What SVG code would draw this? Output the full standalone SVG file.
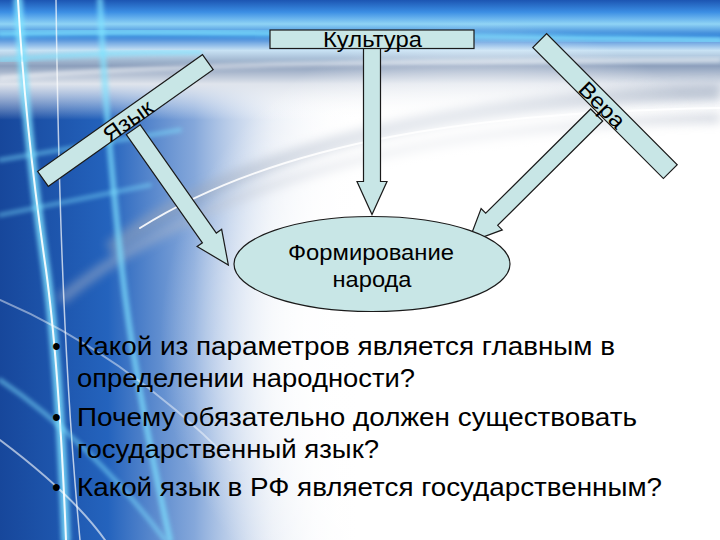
<svg xmlns="http://www.w3.org/2000/svg" width="720" height="540" viewBox="0 0 720 540">
<defs>
  <linearGradient id="leftBlue" x1="0" y1="0" x2="720" y2="0" gradientUnits="userSpaceOnUse">
    <stop offset="0" stop-color="#17479b"/>
    <stop offset="0.15" stop-color="#2463bd"/>
    <stop offset="0.27" stop-color="#6f98d4" stop-opacity="0.85"/>
    <stop offset="0.38" stop-color="#c9d6ea" stop-opacity="0.4"/>
    <stop offset="0.5" stop-color="#ffffff" stop-opacity="0"/>
  </linearGradient>
  <linearGradient id="topBand" x1="0" y1="0" x2="0" y2="120" gradientUnits="userSpaceOnUse">
    <stop offset="0" stop-color="#1c55b2"/>
    <stop offset="0.1" stop-color="#3b8ee4"/>
    <stop offset="0.2" stop-color="#8fd3f5"/>
    <stop offset="0.3" stop-color="#2d79d4"/>
    <stop offset="0.42" stop-color="#c8e2f4"/>
    <stop offset="0.55" stop-color="#8c9fbc"/>
    <stop offset="0.7" stop-color="#dfe4ec"/>
    <stop offset="1" stop-color="#ffffff" stop-opacity="0"/>
  </linearGradient>
  <radialGradient id="centerWhite" cx="480" cy="340" r="320" gradientUnits="userSpaceOnUse">
    <stop offset="0" stop-color="#ffffff"/>
    <stop offset="0.55" stop-color="#ffffff" stop-opacity="0.85"/>
    <stop offset="1" stop-color="#ffffff" stop-opacity="0"/>
  </radialGradient>
  <filter id="blur2" x="-20%" y="-20%" width="140%" height="140%"><feGaussianBlur stdDeviation="2"/></filter>
  <filter id="blur5" x="-20%" y="-20%" width="140%" height="140%"><feGaussianBlur stdDeviation="5"/></filter>
  <style>
    .shape { fill: #c8e6e6; stroke: #1a1a1a; stroke-width: 1.2; }
    .lbl { font-family: "Liberation Sans", Arial, sans-serif; font-size: 22px; fill: #000; }
    .body { font-family: "Liberation Sans", Arial, sans-serif; font-size: 25px; fill: #000; }
    .glow { fill: none; stroke: #7fe3ff; stroke-linecap: round; }
    .core { fill: none; stroke: #ffffff; stroke-linecap: round; }
  </style>
</defs>

<!-- background -->
<g id="background">
  <rect x="0" y="0" width="720" height="540" fill="#ffffff"/>
  <rect x="0" y="0" width="720" height="540" fill="url(#leftBlue)"/>
  <rect x="0" y="0" width="720" height="120" fill="url(#topBand)"/>
  <path d="M110,250 C240,150 450,100 720,92" fill="none" stroke="#98a6bc" stroke-width="16" opacity="0.55" filter="url(#blur5)"/>
  <path d="M60,300 C220,170 450,125 720,118" fill="none" stroke="#b4bccb" stroke-width="10" opacity="0.5" filter="url(#blur5)"/>
  <path d="M140,228 C280,140 480,112 720,108" class="core" stroke-width="2" opacity="0.9"/>
  <path d="M0,78 C150,66 300,62 720,60" class="core" stroke-width="3" opacity="0.8" filter="url(#blur2)"/>
  <path d="M0,34 C150,30 300,34 720,40" class="glow" stroke-width="6" opacity="0.8" filter="url(#blur2)"/>
  <rect x="0" y="0" width="720" height="540" fill="url(#centerWhite)"/>
  <!-- light lines on the left -->
  <path d="M18,0 C22,70 30,160 46,270 C57,350 62,440 66,540" class="glow" stroke-width="9" opacity="0.8" filter="url(#blur2)"/>
  <path d="M18,0 C22,70 30,160 46,270 C57,350 62,440 66,540" class="core" stroke-width="2" opacity="0.9"/>
  <path d="M56,0 C58,150 62,350 80,540" class="core" stroke-width="1.5" opacity="0.7"/>
  <path d="M100,0 C104,90 112,180 122,270 C132,360 150,450 170,540" class="glow" stroke-width="6" opacity="0.7" filter="url(#blur2)"/>
  <path d="M0,60 C60,55 120,52 200,52" class="glow" stroke-width="5" opacity="0.7" filter="url(#blur2)"/>
  <path d="M0,160 C60,150 120,140 180,130" class="glow" stroke-width="4" opacity="0.55" filter="url(#blur2)"/>
  <path d="M0,215 C50,205 100,195 150,185" class="glow" stroke-width="4" opacity="0.5" filter="url(#blur2)"/>
  <path d="M0,380 C60,420 120,480 165,540" class="glow" stroke-width="4" opacity="0.6" filter="url(#blur2)"/>
  <path d="M0,440 C40,470 80,505 105,540" class="core" stroke-width="2" opacity="0.6"/>
  <path d="M0,300 C70,330 150,380 230,460" class="core" stroke-width="2" opacity="0.45"/>
</g>

<!-- connectors (block arrows) -->
<g id="connectors">
  <path class="shape" transform="translate(372,47) rotate(90)" d="M0,-8.5 L134.5,-8.5 L134.5,-15 L167.5,0 L134.5,15 L134.5,8.5 L0,8.5 Z"/>
  <path class="shape" transform="translate(133.3,129.7) rotate(54.9)" d="M0,-8.5 L132.3,-8.5 L132.3,-15 L165.3,0 L132.3,15 L132.3,8.5 L0,8.5 Z"/>
  <path class="shape" transform="translate(596.7,115) rotate(135.2)" d="M0,-8.5 L148,-8.5 L148,-15 L181,0 L148,15 L148,8.5 L0,8.5 Z"/>
</g>

<g id="node-kultura">
  <rect class="shape" x="270" y="30" width="204" height="18.5"/>
  <text class="lbl" x="372.5" y="47" text-anchor="middle" textLength="99" lengthAdjust="spacingAndGlyphs">Культура</text>
</g>

<g id="node-yazyk">
  <rect class="shape" transform="translate(125.4,120.5) rotate(-35.3)" x="-101" y="-9.25" width="202" height="18.5"/>
  <text class="lbl" transform="translate(128,121) rotate(-35.3)" x="0" y="7.5" text-anchor="middle" textLength="56" lengthAdjust="spacingAndGlyphs">Язык</text>
</g>

<g id="node-vera">
  <rect class="shape" transform="translate(605,106.1) rotate(45.1)" x="-92.5" y="-9.75" width="185" height="19.5"/>
  <text class="lbl" transform="translate(602,105) rotate(45.1)" x="0" y="7.5" text-anchor="middle" textLength="56" lengthAdjust="spacingAndGlyphs">Вера</text>
</g>

<g id="node-formirovanie">
  <ellipse class="shape" cx="372" cy="264" rx="138" ry="47.5"/>
  <text class="lbl" x="371" y="260" text-anchor="middle" textLength="166" lengthAdjust="spacingAndGlyphs">Формирование</text>
  <text class="lbl" x="372" y="287" text-anchor="middle" textLength="79" lengthAdjust="spacingAndGlyphs">народа</text>
</g>

<g id="questions">
  <text class="body" x="52" y="355">•</text>
  <text class="body" x="77" y="355" textLength="538" lengthAdjust="spacingAndGlyphs">Какой из параметров является главным в</text>
  <text class="body" x="77" y="387" textLength="338" lengthAdjust="spacingAndGlyphs">определении народности?</text>
  <text class="body" x="52" y="426">•</text>
  <text class="body" x="77" y="426" textLength="560" lengthAdjust="spacingAndGlyphs">Почему обязательно должен существовать</text>
  <text class="body" x="77" y="458" textLength="302" lengthAdjust="spacingAndGlyphs">государственный язык?</text>
  <text class="body" x="52" y="496">•</text>
  <text class="body" x="77" y="496" textLength="585" lengthAdjust="spacingAndGlyphs">Какой язык в РФ является государственным?</text>
</g>
</svg>
